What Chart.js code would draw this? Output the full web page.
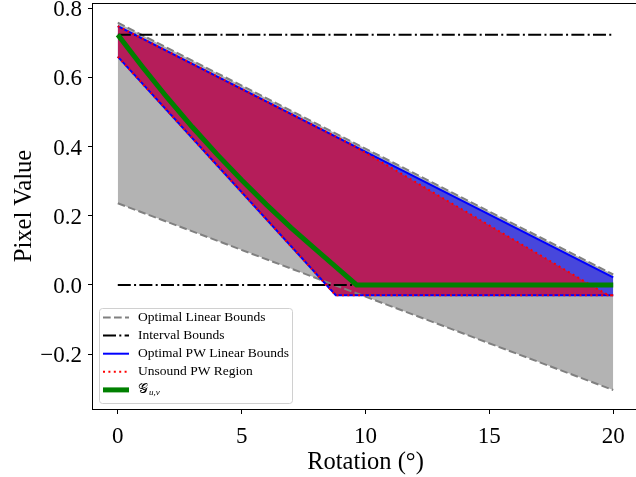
<!DOCTYPE html>
<html>
<head>
<meta charset="utf-8">
<script src="https://cdn.jsdelivr.net/npm/chart.js@4/dist/chart.umd.min.js"></script>
<style>
  html, body { margin: 0; padding: 0; background: #fff; overflow: hidden; }
  #wrap { width: 640px; height: 477px; }
</style>
</head>
<body>
<div id="wrap"><canvas id="chart" width="640" height="477"></canvas></div>
<script>
// values
const ends = [0, 20];
const linearUpper = [0.758, 0.030];
const linearLower = [0.236, -0.304];
const intervalUpper = [0.723, 0.723];
const intervalLower = [0.0, 0.0];
const pwUpperX = [0, 20];
const pwUpperY = [0.748, 0.022];
const pwLowerX = [0, 8.8, 20];
const pwLowerY = [0.660, -0.030, -0.030];
const unsoundUpperX = [0, 9.5, 19.8, 20];
const unsoundUpperY = [0.748, 0.403, -0.030, -0.030];
const gX = [0, 1, 2, 3, 4, 5, 6, 7, 8, 9, 9.64, 20];
const gY = [0.723, 0.630, 0.541, 0.457, 0.378, 0.303, 0.232, 0.165, 0.102, 0.040, 0.0, 0.0];
const xTicks = [0, 5, 10, 15, 20];
const yTicks = [-0.2, 0, 0.2, 0.4, 0.6, 0.8];

const SERIF = "'Liberation Serif', 'DejaVu Serif', serif";

function pts(xs, ys) {
  return xs.map((x, i) => ({ x: x, y: ys[i] }));
}

function lineSet(data, color, width, dash, extra) {
  return Object.assign({
    data: data,
    borderColor: color,
    borderWidth: width,
    borderDash: dash,
    backgroundColor: "transparent",
    pointRadius: 0,
    tension: 0,
    fill: false
  }, extra || {});
}

// index 0 is drawn on top
const datasets = [
  lineSet(pts(gX, gY), "#008000", 5, []),
  lineSet(pts(unsoundUpperX, unsoundUpperY), "#ff0000", 2, [2, 3.4],
    { fill: "+1", backgroundColor: "#b51d5a" }),
  lineSet(pts(pwLowerX, pwLowerY), "#ff0000", 2, [2, 3.4]),
  lineSet(pts(pwUpperX, pwUpperY), "#0000ff", 2, [],
    { fill: "+1", backgroundColor: "#4747dc" }),
  lineSet(pts(pwLowerX, pwLowerY), "#0000ff", 2, []),
  lineSet(pts(ends, intervalUpper), "#000000", 2, [13, 3.3, 2, 3.3]),
  lineSet(pts(ends, intervalLower), "#000000", 2, [13, 3.3, 2, 3.3]),
  lineSet(pts(ends, linearUpper), "#808080", 2, [7.7, 3.3],
    { fill: "+1", backgroundColor: "#b3b3b3" }),
  lineSet(pts(ends, linearLower), "#808080", 2, [7.7, 3.3])
];

const legendRows = [
  { label: "Optimal Linear Bounds", ds: 7 },
  { label: "Interval Bounds", ds: 5 },
  { label: "Optimal PW Linear Bounds", ds: 4 },
  { label: "Unsound PW Region", ds: 2 },
  { label: "\u{1D4A2}", sub: "u,v", ds: 0 }
];

const framePlugin = {
  id: "frame",
  afterDraw(chart) {
    const ctx = chart.ctx;
    const a = chart.chartArea;
    ctx.save();
    ctx.strokeStyle = "#000";
    ctx.lineWidth = 1;
    ctx.strokeRect(a.left - 0.5, a.top + 0.5, a.right - a.left, a.bottom - a.top);

    // legend box
    const bx = 99.5, by = 308.5, bw = 193, bh = 95, r = 3;
    ctx.beginPath();
    ctx.moveTo(bx + r, by);
    ctx.arcTo(bx + bw, by, bx + bw, by + bh, r);
    ctx.arcTo(bx + bw, by + bh, bx, by + bh, r);
    ctx.arcTo(bx, by + bh, bx, by, r);
    ctx.arcTo(bx, by, bx + bw, by, r);
    ctx.closePath();
    ctx.fillStyle = "rgba(255,255,255,0.8)";
    ctx.fill();
    ctx.strokeStyle = "#d0d0d0";
    ctx.lineWidth = 1;
    ctx.stroke();

    legendRows.forEach((row, i) => {
      const ds = chart.data.datasets[row.ds];
      const y = 317.5 + i * 18.1;
      ctx.beginPath();
      ctx.setLineDash(ds.borderDash);
      ctx.strokeStyle = ds.borderColor;
      ctx.lineWidth = ds.borderWidth;
      ctx.moveTo(103, y);
      ctx.lineTo(129, y);
      ctx.stroke();
      ctx.setLineDash([]);
      ctx.fillStyle = "#000";
      ctx.textBaseline = "middle";
      ctx.textAlign = "left";
      ctx.font = "13.5px " + SERIF;
      ctx.fillText(row.label, 138, y);
      if (row.sub) {
        const w = ctx.measureText(row.label).width;
        ctx.font = "italic 9px " + SERIF;
        ctx.fillText(row.sub, 138 + w + 1, y + 3);
      }
    });
    ctx.restore();
  }
};

new Chart(document.getElementById("chart"), {
  type: "line",
  data: { datasets: datasets },
  plugins: [framePlugin],
  options: {
    responsive: false,
    devicePixelRatio: 1,
    animation: false,
    layout: { padding: { top: 3, right: 2, left: 0, bottom: 0 } },
    plugins: {
      legend: { display: false },
      tooltip: { enabled: false },
      filler: { drawTime: "beforeDatasetsDraw" }
    },
    scales: {
      x: {
        type: "linear",
        min: -1,
        max: 21,
        afterBuildTicks: s => { s.ticks = xTicks.map(v => ({ value: v })); },
        afterFit: s => { s.height = 68; s.paddingLeft = 0; s.paddingRight = 0; },
        border: { display: false },
        grid: { drawOnChartArea: false, drawTicks: true, tickLength: 5, color: "#000", tickColor: "#000" },
        ticks: {
          color: "#000",
          padding: 9,
          maxRotation: 0,
          font: { family: SERIF, size: 23 },
          callback: v => String(v)
        },
        title: {
          display: true,
          text: "Rotation (\u00B0)",
          color: "#000",
          font: { family: SERIF, size: 24.5 },
          padding: { top: 0, bottom: 0 }
        }
      },
      y: {
        type: "linear",
        min: -0.3588,
        max: 0.8149,
        afterBuildTicks: s => { s.ticks = yTicks.map(v => ({ value: v })); },
        afterFit: s => { s.width = 93; s.paddingTop = 0; s.paddingBottom = 0; },
        border: { display: false },
        grid: { drawOnChartArea: false, drawTicks: true, tickLength: 5, color: "#000", tickColor: "#000" },
        ticks: {
          color: "#000",
          padding: 6,
          labelOffset: 2,
          font: { family: SERIF, size: 23 },
          callback: v => (v < -1e-9 ? "\u2212" : "") + Math.abs(v).toFixed(1)
        },
        title: {
          display: true,
          text: "Pixel Value",
          color: "#000",
          font: { family: SERIF, size: 24.5 },
          padding: { top: 10, bottom: 0 }
        }
      }
    }
  }
});
</script>
</body>
</html>
